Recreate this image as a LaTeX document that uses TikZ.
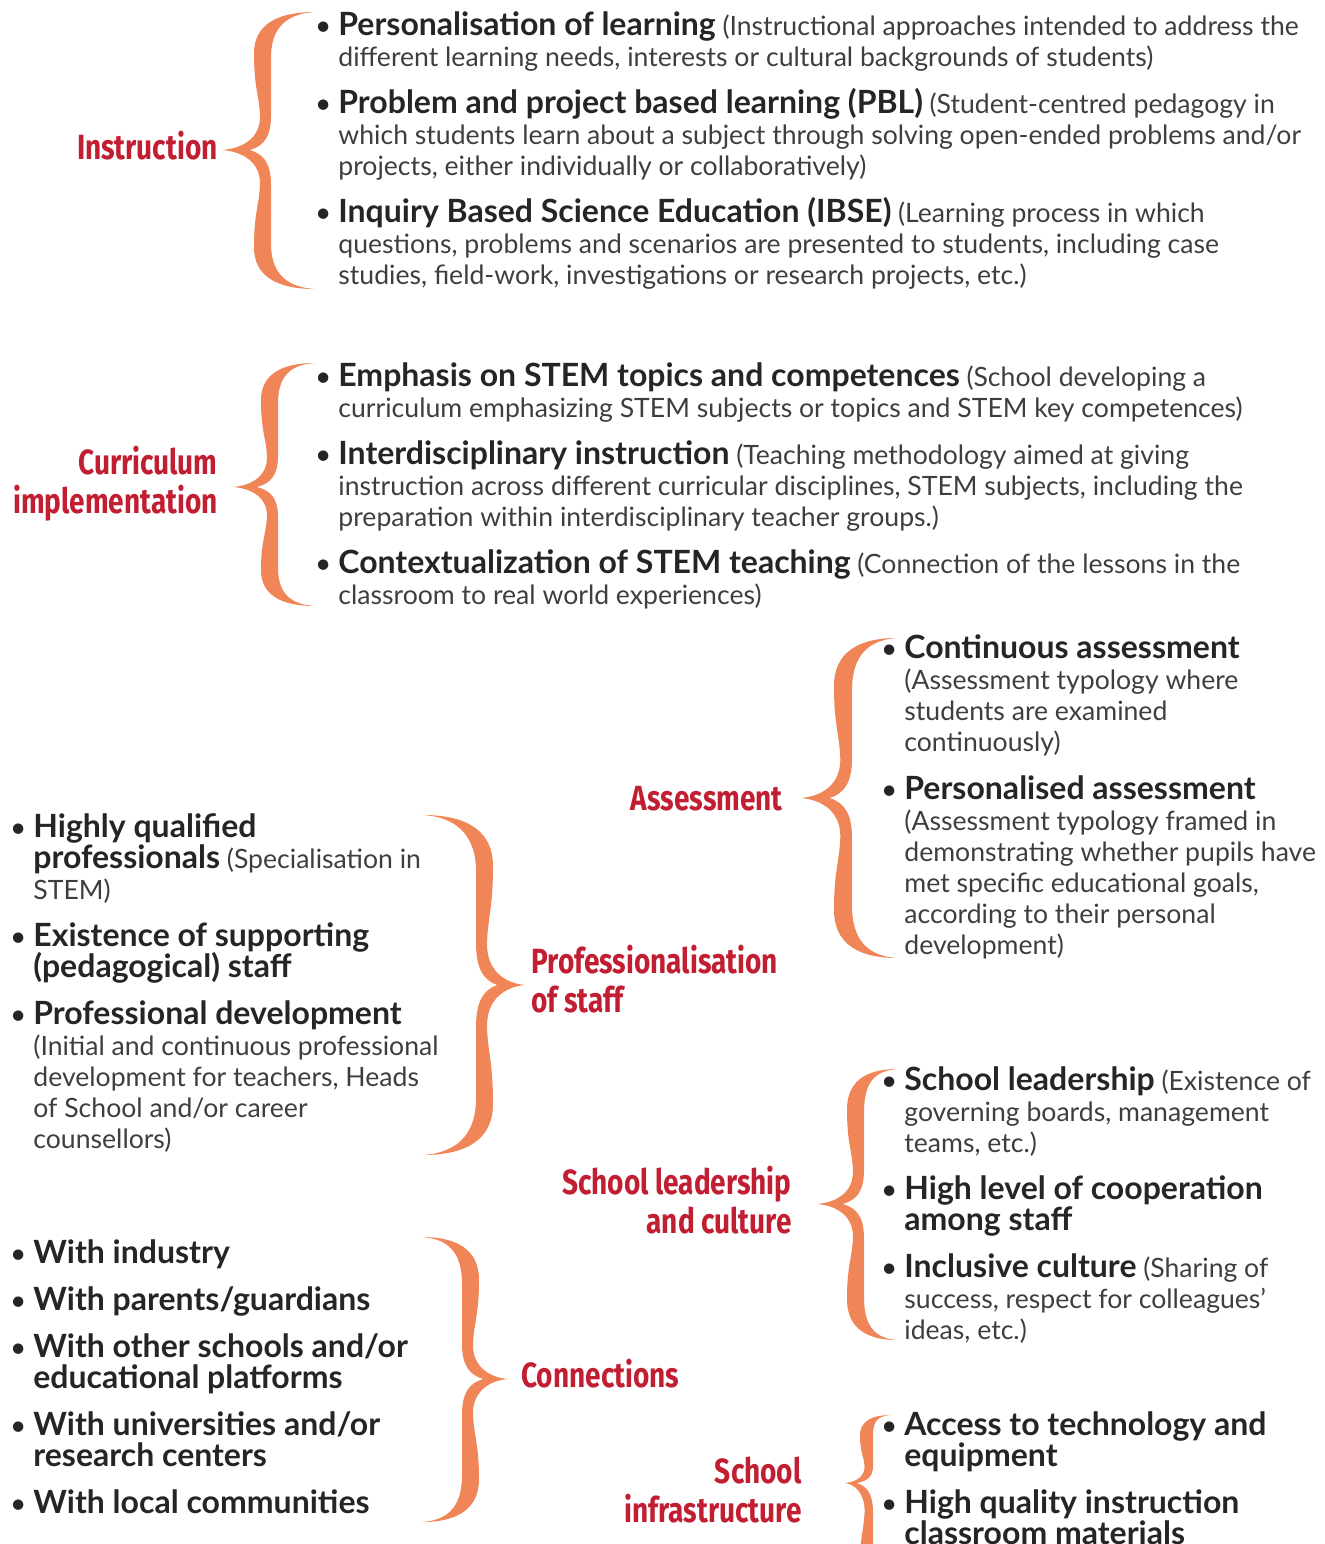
\documentclass[tikz,border=0pt]{standalone}
\usepackage{fontspec}
\setmainfont{Lato}
\newfontfamily\labelfont[FakeStretch=0.8]{Fira Sans}
\definecolor{labred}{RGB}{193,30,50}
\definecolor{braceorange}{RGB}{240,134,88}
\definecolor{headgray}{RGB}{38,36,37}
\definecolor{bodygray}{RGB}{62,62,62}

% bold lead-in of a list entry
\newcommand\hd[1]{{\fontsize{16}{15.5}\selectfont\bfseries\color{headgray}#1}}
% hanging bullet
\newcommand\bul{\llap{{\fontsize{14}{15.5}\selectfont\color{headgray}\textbullet}\hspace{3.5pt}}}

% calligraphic curly brace as a filled shape:
% tip x, spine x, end x, top y, middle y, bottom y, stroke width
\newcommand\drawbrace[7]{%
  \pgfmathsetmacro\brSg{sign(#3-#1)}%
  \pgfmathsetmacro\brW{#7*\brSg}%
  \pgfmathsetmacro\brA{#5-#4}%
  \pgfmathsetmacro\brB{#6-#5}%
  \pgfmathsetmacro\brD{#3-#2}%
  \pgfmathsetmacro\brS{#2-#1}%
  \fill[bracefill]
   (#3,#4) .. controls ({#2+0.35*\brD},#4) and (#2,{#4+0.1*\brA}) .. (#2,{#4+0.3*\brA})
   .. controls (#2,{#4+0.55*\brA}) and ({#2+0.3*\brW},{#5-0.4*\brA}) .. ({#2+0.35*\brW},{#5-0.25*\brA})
   .. controls ({#2+0.4*\brW},{#5-0.08*\brA}) and ({#1+0.6*\brS},{#5-0.01*\brA}) .. (#1,#5)
   .. controls ({#1+0.6*\brS},{#5+0.01*\brB}) and ({#2+0.4*\brW},{#5+0.08*\brB}) .. ({#2+0.35*\brW},{#5+0.25*\brB})
   .. controls ({#2+0.3*\brW},{#5+0.4*\brB}) and (#2,{#6-0.55*\brB}) .. (#2,{#6-0.3*\brB})
   .. controls (#2,{#6-0.1*\brB}) and ({#2+0.35*\brD},#6) .. (#3,#6)
   .. controls ({#2+0.45*\brD},{#6-0.015*\brB}) and ({#2+\brW},{#6-0.15*\brB}) .. ({#2+\brW},{#6-0.33*\brB})
   -- ({#2+\brW},{#5+0.25*\brB})
   .. controls ({#2+\brW},{#5+0.1*\brB}) and ({#2+0.6*\brW},{#5+0.03*\brB}) .. ({#2-0.25*\brW},#5)
   .. controls ({#2+0.6*\brW},{#5-0.03*\brA}) and ({#2+\brW},{#5-0.1*\brA}) .. ({#2+\brW},{#5-0.25*\brA})
   -- ({#2+\brW},{#4+0.33*\brA})
   .. controls ({#2+\brW},{#4+0.15*\brA}) and ({#2+0.45*\brD},{#4+0.015*\brA}) .. (#3,#4)
   -- cycle;}

% multi-line nodes are placed by the baseline of their last line
\tikzset{
  bracefill/.style={fill=braceorange},
  item/.style={anchor=base west, align=left, inner sep=0pt, text=bodygray,
    font=\fontsize{13.3}{15.5}\selectfont},
  lab/.style={inner sep=0pt, text=labred, align=right,
    font=\labelfont\bfseries\fontsize{17.5}{19.5}\selectfont},
  labl/.style={lab, align=left},
}

\begin{document}
\begin{tikzpicture}[x=0.5pt,y=-0.5pt]
\useasboundingbox (0,0) rectangle (1325,1544);
\clip (0,0) rectangle (1325,1544);

% ---------------- Instruction
\node[lab, anchor=base east] (instr) at (218,159) {Instruction};
\drawbrace{222}{254}{315}{12}{150}{289}{17}
\node[item] (instr1) at (338,66) {\bul\hd{Personalisation of learning} (Instructional approaches intended to address the\\different learning needs, interests or cultural backgrounds of students)};
\node[item] (instr2) at (338,175) {\bul\hd{Problem and project based learning (PBL)} (Student-centred pedagogy in\\which students learn about a subject through solving open-ended problems and/or\\projects, either individually or collaboratively)};
\node[item] (instr3) at (338,284) {\bul\hd{Inquiry Based Science Education (IBSE)} (Learning process in which\\questions, problems and scenarios are presented to students, including case\\studies, field-work, investigations or research projects, etc.)};

% ---------------- Curriculum implementation
\node[lab, anchor=base east] (curr) at (218,513) {Curriculum\\implementation};
\drawbrace{233}{261}{315}{363}{487}{606}{17}
\node[item] (curr1) at (338,417) {\bul\hd{Emphasis on STEM topics and competences} (School developing a\\curriculum emphasizing STEM subjects or topics and STEM key competences)};
\node[item] (curr2) at (338,526) {\bul\hd{Interdisciplinary instruction} (Teaching methodology aimed at giving\\instruction across different curricular disciplines, STEM subjects, including the\\preparation within interdisciplinary teacher groups.)};
\node[item] (curr3) at (338,604) {\bul\hd{Contextualization of STEM teaching} (Connection of the lessons in the\\classroom to real world experiences)};

% ---------------- Assessment
\node[lab, anchor=base east] (assess) at (783,810) {Assessment};
\drawbrace{801}{834}{897}{638}{798}{958}{18}
\node[item] (assess1) at (904,751) {\bul\hd{Continuous assessment}\\(Assessment typology where\\students are examined\\continuously)};
\node[item] (assess2) at (904,954) {\bul\hd{Personalised assessment}\\(Assessment typology framed in\\demonstrating whether pupils have\\met specific educational goals,\\according to their personal\\development)};

% ---------------- Professionalisation of staff
\node[labl, anchor=base west] (prof) at (531,1012) {Professionalisation\\of staff};
\drawbrace{525}{493}{423}{815}{985}{1155}{17}
\node[item] (prof1) at (33,899) {\bul\hd{Highly qualified}\\\hd{professionals} (Specialisation in\\STEM)};
\node[item] (prof2) at (33,977) {\bul\hd{Existence of supporting}\\\hd{(pedagogical) staff}};
\node[item] (prof3) at (33,1148) {\bul\hd{Professional development}\\(Initial and continuous professional\\development for teachers, Heads\\of School and/or career\\counsellors)};

% ---------------- School leadership and culture
\node[lab, anchor=base east] (lead) at (792,1233) {School leadership\\and culture};
\drawbrace{817}{847}{897}{1069}{1204}{1340}{17}
\node[item] (lead1) at (904,1152) {\bul\hd{School leadership} (Existence of\\governing boards, management\\teams, etc.)};
\node[item] (lead2) at (904,1230) {\bul\hd{High level of cooperation}\\\hd{among staff}};
\node[item] (lead3) at (904,1339) {\bul\hd{Inclusive culture} (Sharing of\\success, respect for colleagues’\\ideas, etc.)};

% ---------------- Connections
\node[labl, anchor=base west] (conn) at (521,1387) {Connections};
\drawbrace{508}{479}{422}{1237}{1379}{1522}{17}
\node[item] (conn1) at (33,1263) {\bul\hd{With industry}};
\node[item] (conn2) at (33,1310) {\bul\hd{With parents/guardians}};
\node[item] (conn3) at (33,1388) {\bul\hd{With other schools and/or}\\\hd{educational platforms}};
\node[item] (conn4) at (33,1466) {\bul\hd{With universities and/or}\\\hd{research centers}};
\node[item] (conn5) at (33,1513) {\bul\hd{With local communities}};

% ---------------- School infrastructure
\node[lab, anchor=base east] (infra) at (802,1522) {School\\infrastructure};
\drawbrace{845}{860}{891}{1415}{1483}{1600}{13}
\node[item] (infra1) at (904,1466) {\bul\hd{Access to technology and}\\\hd{equipment}};
\node[item] (infra2) at (904,1544) {\bul\hd{High quality instruction}\\\hd{classroom materials}};
\end{tikzpicture}
\end{document}
